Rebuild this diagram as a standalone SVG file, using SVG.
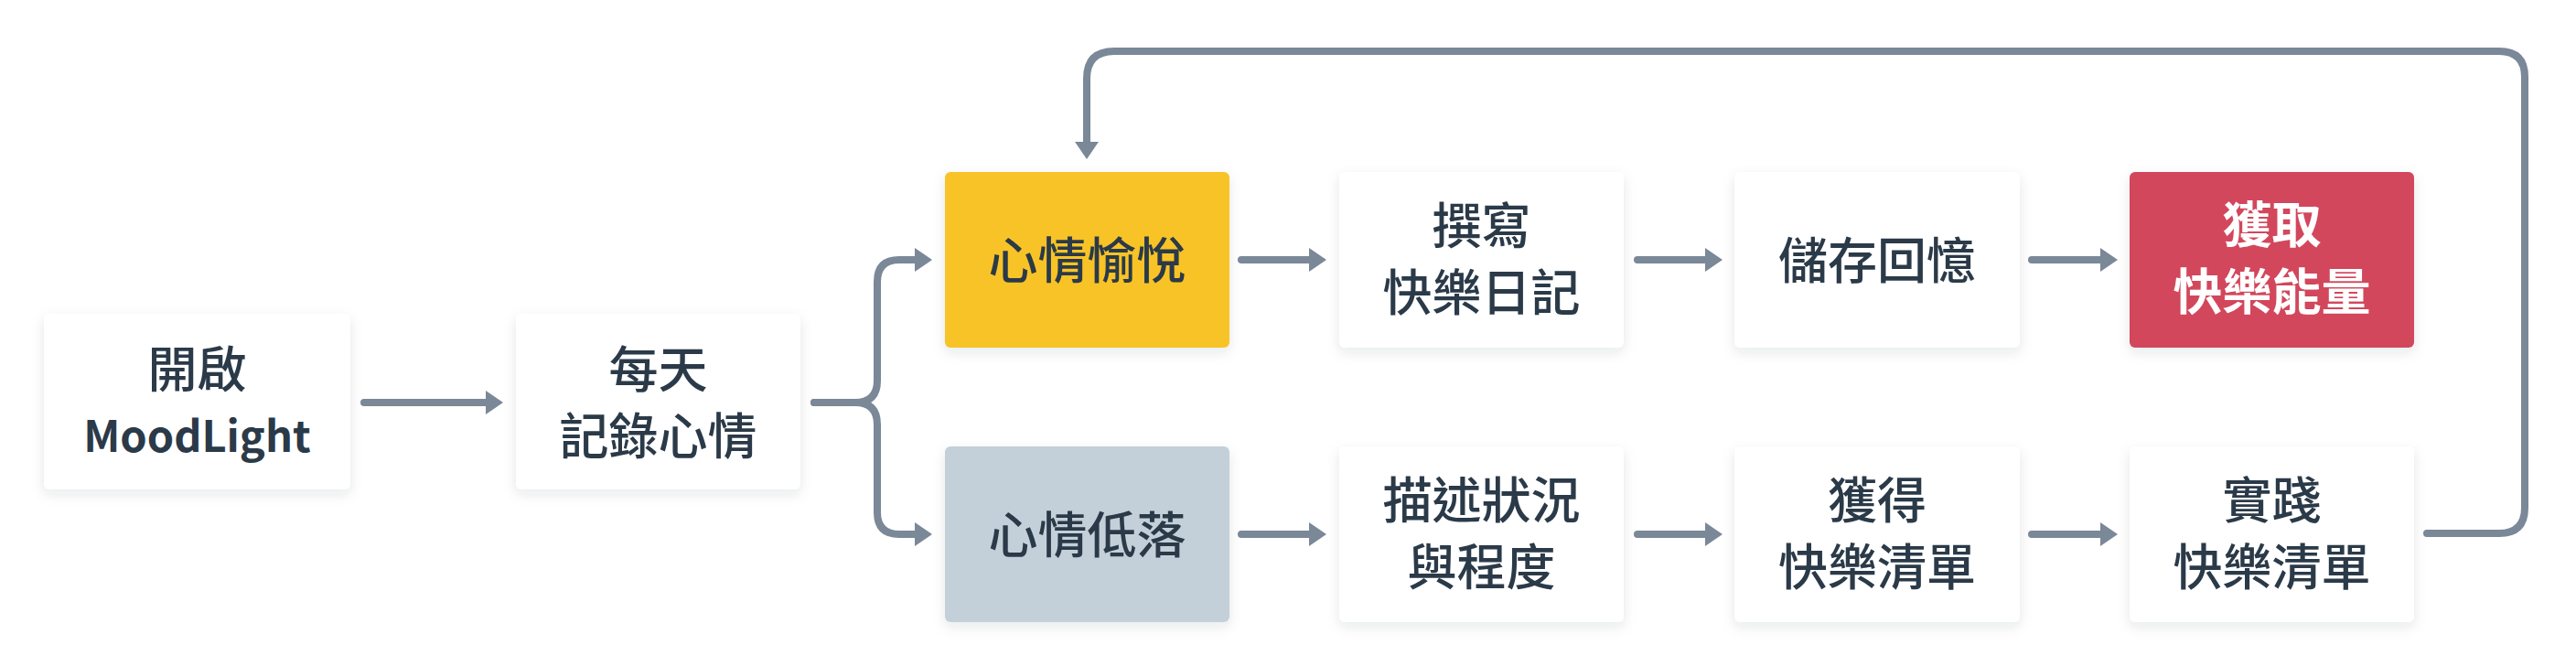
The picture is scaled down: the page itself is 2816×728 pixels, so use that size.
<svg xmlns="http://www.w3.org/2000/svg" width="2816" height="728" viewBox="0 0 2816 728">
<defs>
<filter id="sh" x="-20%" y="-20%" width="140%" height="150%">
<feDropShadow dx="0" dy="5" stdDeviation="7" flood-color="#1f2d3a" flood-opacity="0.10"/>
</filter>
<marker id="ah" markerUnits="userSpaceOnUse" markerWidth="20" markerHeight="28" refX="0" refY="14" orient="auto">
<path d="M0,1 L19,14 L0,27 Z" fill="#7a8898"/>
</marker>
</defs>
<style>
.box{fill:#ffffff;filter:url(#sh)}
.yel{fill:#f8c325;filter:url(#sh)}
.gry{fill:#c4d0d9;filter:url(#sh)}
.red{fill:#d2465c;filter:url(#sh)}
.t{font-family:"Noto Sans CJK TC","Noto Sans",sans-serif;font-size:54px;font-weight:500;fill:#2b3a48;text-anchor:middle}
.b{font-weight:700;font-size:47px}
.w{fill:#ffffff;font-weight:700}
.c{fill:none;stroke:#7a8898;stroke-width:8;stroke-linecap:round;stroke-linejoin:round}
</style>
<rect width="2816" height="728" fill="#ffffff"/>
<g id="connectors">
<path class="c" d="M398,440 H531" marker-end="url(#ah)"/>
<path class="c" d="M890,440 H935 Q959,440 959,416 V308 Q959,284 983,284 H1000" marker-end="url(#ah)"/>
<path class="c" d="M890,440 H935 Q959,440 959,464 V560 Q959,584 983,584 H1000" marker-end="url(#ah)"/>
<path class="c" d="M1357,284 H1431" marker-end="url(#ah)"/>
<path class="c" d="M1790,284 H1864" marker-end="url(#ah)"/>
<path class="c" d="M2221,284 H2296" marker-end="url(#ah)"/>
<path class="c" d="M1357,584 H1431" marker-end="url(#ah)"/>
<path class="c" d="M1790,584 H1864" marker-end="url(#ah)"/>
<path class="c" d="M2221,584 H2296" marker-end="url(#ah)"/>
<path class="c" d="M2653,583 H2732 Q2760,583 2760,555 V84 Q2760,56 2732,56 H1218 Q1188,56 1188,86 V155" marker-end="url(#ah)"/>
</g>
<g id="n-start">
<rect class="box" x="48" y="343" width="335" height="192" rx="6"/>
<text class="t" x="215.5" y="424">開啟</text>
<text class="t b" x="215.5" y="494">MoodLight</text>
</g>
<g id="n-daily">
<rect class="box" x="564" y="343" width="311" height="192" rx="6"/>
<text class="t" x="719.5" y="424">每天</text>
<text class="t" x="719.5" y="497">記錄心情</text>
</g>
<g id="n-happy">
<rect class="yel" x="1033" y="188" width="311" height="192" rx="6"/>
<text class="t" x="1188.5" y="305">心情愉悅</text>
</g>
<g id="n-diary">
<rect class="box" x="1464" y="188" width="311" height="192" rx="6"/>
<text class="t" x="1619.5" y="267">撰寫</text>
<text class="t" x="1619.5" y="340">快樂日記</text>
</g>
<g id="n-store">
<rect class="box" x="1896" y="188" width="312" height="192" rx="6"/>
<text class="t" x="2052" y="305">儲存回憶</text>
</g>
<g id="n-energy">
<rect class="red" x="2328" y="188" width="311" height="192" rx="6"/>
<text class="t w" x="2483.5" y="266">獲取</text>
<text class="t w" x="2483.5" y="339">快樂能量</text>
</g>
<g id="n-low">
<rect class="gry" x="1033" y="488" width="311" height="192" rx="6"/>
<text class="t" x="1188.5" y="605">心情低落</text>
</g>
<g id="n-describe">
<rect class="box" x="1464" y="488" width="311" height="192" rx="6"/>
<text class="t" x="1619.5" y="567">描述狀況</text>
<text class="t" x="1619.5" y="640">與程度</text>
</g>
<g id="n-getlist">
<rect class="box" x="1896" y="488" width="312" height="192" rx="6"/>
<text class="t" x="2052" y="567">獲得</text>
<text class="t" x="2052" y="640">快樂清單</text>
</g>
<g id="n-practice">
<rect class="box" x="2328" y="488" width="311" height="192" rx="6"/>
<text class="t" x="2483.5" y="567">實踐</text>
<text class="t" x="2483.5" y="640">快樂清單</text>
</g>
</svg>
